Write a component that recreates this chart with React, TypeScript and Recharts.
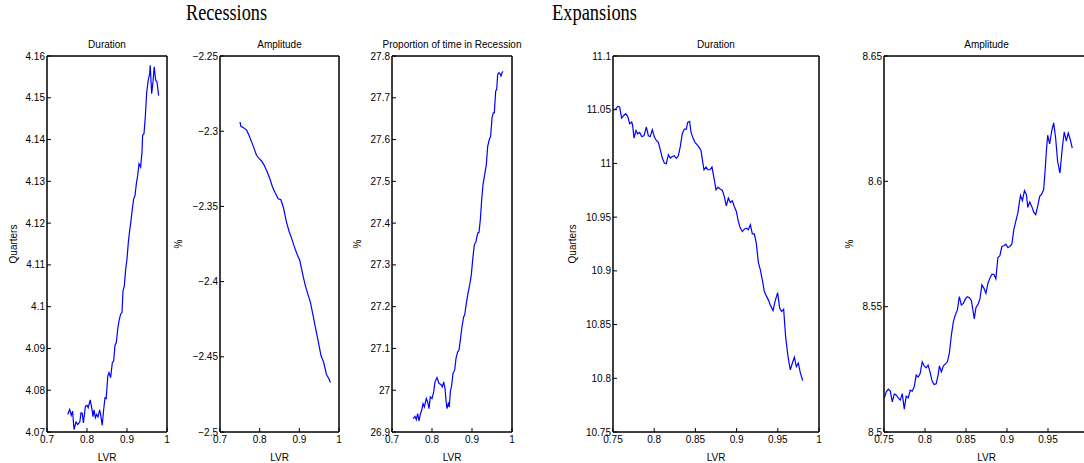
import React from 'react';
import { LineChart, Line, XAxis, YAxis, ReferenceArea } from 'recharts';

// ---------- data ----------
const recDurX = [0.7517,0.7567,0.7608,0.764,0.7675,0.7725,0.7767,0.782,0.785,0.788,0.791,0.796,0.8,0.803,0.808,0.8125,0.815,0.8175,0.821,0.824,0.8275,0.8317,0.834,0.838,0.8417,0.845,0.848,0.852,0.855,0.859,0.8633,0.8667,0.87,0.8733,0.8767,0.88,0.884,0.8875,0.89,0.8933,0.8967,0.9,0.9033,0.9067,0.91,0.9133,0.9167,0.92,0.9233,0.9267,0.93,0.934,0.9375,0.939,0.9425,0.946,0.949,0.953,0.9567,0.958,0.9617,0.965,0.968,0.9717,0.975,0.979];
const recDurY = [4.0742,4.0754,4.074,4.075,4.0706,4.0724,4.0718,4.0724,4.0746,4.0745,4.0722,4.0762,4.0764,4.0758,4.0777,4.0754,4.0737,4.0753,4.0734,4.0742,4.0736,4.0753,4.0742,4.0716,4.0754,4.0782,4.078,4.0834,4.0842,4.083,4.0866,4.087,4.0908,4.0914,4.0946,4.0966,4.0982,4.0986,4.1038,4.105,4.109,4.1114,4.1154,4.1182,4.1206,4.1234,4.1258,4.1266,4.1294,4.1314,4.1342,4.1334,4.137,4.141,4.1414,4.1458,4.151,4.1542,4.1558,4.1578,4.151,4.1538,4.1574,4.1542,4.1538,4.1505];

const recAmpX = [0.7503,0.7528,0.76,0.767,0.773,0.7796,0.7855,0.792,0.799,0.8048,0.8115,0.819,0.8257,0.8324,0.839,0.8467,0.8534,0.86,0.8676,0.8743,0.881,0.8878,0.8945,0.9012,0.9079,0.9146,0.9213,0.928,0.9347,0.9414,0.9481,0.9548,0.9615,0.9682,0.975,0.9783];
const recAmpY = [-2.2938,-2.2967,-2.2978,-2.2993,-2.3027,-2.3071,-2.3111,-2.316,-2.3182,-2.3198,-2.3227,-2.3271,-2.3316,-2.3371,-2.3409,-2.3449,-2.3456,-2.3509,-2.3604,-2.3667,-2.3716,-2.3771,-2.382,-2.386,-2.3944,-2.4022,-2.4082,-2.4138,-2.4227,-2.4316,-2.4404,-2.4493,-2.4538,-2.4616,-2.4649,-2.4671];

const recPropX = [0.7525,0.7575,0.7608,0.7642,0.7675,0.7708,0.7742,0.7775,0.7808,0.7858,0.7892,0.7925,0.7958,0.8,0.8042,0.8075,0.8125,0.8175,0.8225,0.8258,0.8292,0.8325,0.835,0.8375,0.8408,0.8433,0.8458,0.8492,0.8525,0.8567,0.86,0.8642,0.8675,0.8708,0.875,0.8792,0.8817,0.8858,0.89,0.8942,0.8983,0.9017,0.9058,0.91,0.9142,0.9175,0.9208,0.9242,0.9275,0.9317,0.9358,0.9392,0.9433,0.9467,0.95,0.9533,0.9558,0.9592,0.9617,0.9642,0.9675,0.9708,0.9725,0.975,0.9775];
const recPropY = [26.932,26.9376,26.9296,26.944,26.9264,26.9424,26.952,26.968,26.96,26.98,26.972,26.956,26.984,26.98,26.996,27.02,27.0304,27.016,27.0136,27.008,27.02,27.004,26.976,26.956,26.968,26.96,26.996,27.012,27.04,27.048,27.076,27.092,27.096,27.12,27.152,27.176,27.18,27.208,27.232,27.252,27.276,27.312,27.348,27.356,27.376,27.378,27.408,27.456,27.492,27.516,27.54,27.584,27.6,27.608,27.652,27.664,27.664,27.716,27.72,27.756,27.76,27.756,27.752,27.76,27.763];

const expDurX = [0.7508,0.7532,0.7557,0.7581,0.7605,0.7629,0.7654,0.7678,0.7702,0.7727,0.7739,0.7755,0.7779,0.7799,0.7824,0.7848,0.7876,0.7905,0.7929,0.7953,0.7977,0.8002,0.8026,0.805,0.8074,0.8099,0.8123,0.8147,0.8172,0.8196,0.822,0.8244,0.8269,0.8293,0.8317,0.8341,0.8366,0.839,0.8406,0.843,0.8447,0.8471,0.8495,0.8519,0.8544,0.8568,0.8588,0.8604,0.8629,0.8653,0.8677,0.8701,0.8726,0.875,0.8774,0.8799,0.8827,0.8851,0.8875,0.89,0.8924,0.8948,0.8972,0.8997,0.9021,0.9045,0.907,0.9094,0.9118,0.9142,0.9167,0.9191,0.9215,0.9239,0.9264,0.9288,0.9312,0.9337,0.9361,0.9385,0.9409,0.9442,0.9466,0.9498,0.9523,0.9547,0.9571,0.9595,0.9624,0.9652,0.9676,0.9701,0.9725,0.9749,0.9773,0.9802];
const expDurY = [11.05,11.0506,11.0531,11.0525,11.0422,11.0444,11.0463,11.0438,11.037,11.0385,11.0351,11.0236,11.0307,11.0276,11.0289,11.0251,11.0258,11.0339,11.0258,11.0251,11.0314,11.0245,11.0214,11.0196,11.0127,11.005,11.0003,10.9997,11.0081,11.005,11.0065,11.0071,11.0047,11.0071,11.0158,11.0276,11.032,11.032,11.0382,11.0391,11.0289,11.0236,11.0196,11.0174,11.0152,11.0121,11.0019,10.9941,10.9966,10.9941,10.9941,10.9966,10.9863,10.9755,10.978,10.9761,10.9748,10.9693,10.9606,10.9677,10.9637,10.9652,10.9599,10.9553,10.946,10.9398,10.9366,10.9388,10.9398,10.9382,10.9429,10.9345,10.9345,10.9258,10.9078,10.9009,10.8916,10.8807,10.8767,10.873,10.8683,10.863,10.8714,10.8798,10.8652,10.8621,10.8643,10.8388,10.8202,10.8078,10.814,10.8196,10.8109,10.814,10.8053,10.7978];

const expAmpX = [0.7504,0.7528,0.7553,0.7577,0.7601,0.7626,0.765,0.7674,0.7698,0.7723,0.7747,0.7771,0.7796,0.782,0.7844,0.7868,0.7893,0.7917,0.7941,0.7966,0.799,0.8014,0.8038,0.8063,0.8087,0.8111,0.8136,0.816,0.8176,0.82,0.8225,0.8249,0.8273,0.8298,0.8322,0.8346,0.837,0.8395,0.8419,0.8443,0.8468,0.8492,0.8516,0.854,0.8565,0.8581,0.8601,0.8621,0.8646,0.867,0.8694,0.8719,0.8743,0.8767,0.8791,0.8816,0.884,0.8864,0.8889,0.8913,0.8937,0.8962,0.8986,0.901,0.9034,0.9059,0.9083,0.9107,0.9132,0.9148,0.9164,0.9188,0.9213,0.9237,0.9253,0.9277,0.9302,0.9326,0.935,0.9374,0.9399,0.9423,0.9447,0.9464,0.948,0.9496,0.952,0.9545,0.9569,0.9593,0.9617,0.9646,0.9674,0.9698,0.9723,0.9747,0.9771,0.9796];
const expAmpY = [8.5136,8.516,8.5171,8.5163,8.512,8.5152,8.5147,8.5136,8.5127,8.5153,8.5091,8.5143,8.5136,8.5167,8.5163,8.518,8.5227,8.5219,8.5233,8.528,8.5264,8.5256,8.5267,8.5237,8.5203,8.5189,8.5192,8.5227,8.5264,8.524,8.5264,8.5272,8.528,8.5317,8.5387,8.544,8.5467,8.5487,8.554,8.5507,8.5513,8.5531,8.554,8.5536,8.5525,8.5493,8.5451,8.5496,8.5509,8.5531,8.5587,8.5573,8.5553,8.5593,8.5613,8.5629,8.5629,8.5611,8.5696,8.5703,8.574,8.5743,8.5749,8.5736,8.574,8.5749,8.5807,8.584,8.5873,8.5909,8.5944,8.5923,8.5963,8.5947,8.5896,8.5917,8.59,8.5877,8.5867,8.59,8.594,8.5949,8.5967,8.604,8.612,8.6184,8.6149,8.62,8.6233,8.6173,8.608,8.6033,8.6133,8.6197,8.616,8.6193,8.6167,8.6133];

const xTicksA = [0.7, 0.8, 0.9, 1];
const xTicksB = [0.75, 0.8, 0.85, 0.9, 0.95, 1];
const xTicksC = [0.75, 0.8, 0.85, 0.9, 0.95];
const recDurTicks = [4.07, 4.08, 4.09, 4.1, 4.11, 4.12, 4.13, 4.14, 4.15, 4.16];
const recAmpTicks = [-2.5, -2.45, -2.4, -2.35, -2.3, -2.25];
const recPropTicks = [26.9, 27, 27.1, 27.2, 27.3, 27.4, 27.5, 27.6, 27.7, 27.8];
const expDurTicks = [10.75, 10.8, 10.85, 10.9, 10.95, 11, 11.05, 11.1];
const expAmpTicks = [8.5, 8.55, 8.6, 8.65];

// ---------- layout ----------
const FONT = '"Liberation Sans", Arial, Helvetica, sans-serif';
const YW = 55;
const RM = 30;
const TOP = 56;
const PLOT_H = 376;
const XH = 31;
const BLUE = '#0000ff';

const fmt = (v: number) => String(Number(v.toFixed(4))).replace('-', '\u2212');
const tickStyle = { fill: '#000', fontSize: 10, fontFamily: FONT };

type PanelProps = {
  plotLeft: number;
  plotW: number;
  xs: number[];
  ys: number[];
  xDomain: [number, number];
  xTicks: number[];
  yDomain: [number, number];
  yTicks: number[];
  title: string;
  yLabel: string;
  yLabelX: number;
};

function Panel(p: PanelProps) {
  const n = Math.min(p.xs.length, p.ys.length);
  const data = p.xs.slice(0, n).map((x, i) => ({ x, y: p.ys[i], y2: p.ys[i] }));
  const chartLeft = p.plotLeft - YW;
  return (
    <div style={{ position: 'absolute', left: chartLeft, top: 0 }}>
      <LineChart
        width={YW + p.plotW + 1 + RM}
        height={TOP + PLOT_H + XH}
        data={data}
        margin={{ top: TOP - 1, right: RM, bottom: 0, left: 0 }}
      >
        <XAxis
          xAxisId="b"
          dataKey="x"
          type="number"
          domain={p.xDomain}
          ticks={p.xTicks}
          interval={0}
          allowDataOverflow
          height={XH}
          tickSize={-4}
          tickMargin={8}
          tick={tickStyle}
          tickFormatter={fmt}
          stroke="#000"
          label={{ value: 'LVR', position: 'insideBottom', offset: 2, fill: '#000', fontSize: 10, fontFamily: FONT }}
        />
        <XAxis
          xAxisId="t"
          orientation="top"
          dataKey="x"
          type="number"
          domain={p.xDomain}
          ticks={p.xTicks}
          interval={0}
          allowDataOverflow
          height={1}
          tickSize={-4}
          tick={false}
          stroke="#000"
          label={{ value: p.title, position: 'top', offset: 7, fill: '#000', fontSize: 10, fontFamily: FONT }}
        />
        <YAxis
          yAxisId="l"
          type="number"
          domain={p.yDomain}
          ticks={p.yTicks}
          interval={0}
          allowDataOverflow
          width={YW}
          tickSize={-4}
          tickMargin={6}
          tick={tickStyle}
          tickFormatter={fmt}
          stroke="#000"
          label={{ value: p.yLabel, angle: -90, position: 'insideLeft', offset: p.yLabelX - chartLeft, fill: '#000', fontSize: 10, fontFamily: FONT, style: { textAnchor: 'middle' } }}
        />
        <YAxis
          yAxisId="r"
          orientation="right"
          type="number"
          domain={p.yDomain}
          ticks={p.yTicks}
          interval={0}
          allowDataOverflow
          width={1}
          tickSize={-4}
          tick={false}
          stroke="#000"
        />
        <ReferenceArea
          xAxisId="b"
          yAxisId="l"
          x1={p.xDomain[0]}
          x2={p.xDomain[1]}
          y1={p.yDomain[0]}
          y2={p.yDomain[1]}
          fill="none"
          fillOpacity={0}
          stroke="#000"
          strokeOpacity={1}
          strokeWidth={1}
          ifOverflow="visible"
        />
        <Line
          xAxisId="t"
          yAxisId="r"
          type="linear"
          dataKey="y2"
          stroke="none"
          strokeOpacity={0}
          dot={false}
          activeDot={false}
          legendType="none"
          isAnimationActive={false}
        />
        <Line
          xAxisId="b"
          yAxisId="l"
          type="linear"
          dataKey="y"
          stroke={BLUE}
          strokeWidth={1.2}
          dot={false}
          activeDot={false}
          isAnimationActive={false}
        />
      </LineChart>
    </div>
  );
}

export default function App() {
  return (
    <div style={{ position: 'fixed', left: 0, top: 0, width: 1084, height: 463, overflow: 'hidden', background: '#fff' }}>
      <svg width={1084} height={30} style={{ position: 'absolute', left: 0, top: 0 }}>
        <text x={186} y={19.5} fontFamily='"Liberation Serif", "Times New Roman", serif' fontSize={23} fill="#000" textLength={81} lengthAdjust="spacingAndGlyphs">Recessions</text>
        <text x={552} y={19.5} fontFamily='"Liberation Serif", "Times New Roman", serif' fontSize={23} fill="#000" textLength={85} lengthAdjust="spacingAndGlyphs">Expansions</text>
      </svg>
      <Panel plotLeft={47} plotW={120} xs={recDurX} ys={recDurY} xDomain={[0.7, 1]} xTicks={xTicksA} yDomain={[4.07, 4.16]} yTicks={recDurTicks} title="Duration" yLabel="Quarters" yLabelX={13} />
      <Panel plotLeft={220} plotW={119} xs={recAmpX} ys={recAmpY} xDomain={[0.7, 1]} xTicks={xTicksA} yDomain={[-2.5, -2.25]} yTicks={recAmpTicks} title="Amplitude" yLabel="%" yLabelX={178} />
      <Panel plotLeft={392} plotW={120} xs={recPropX} ys={recPropY} xDomain={[0.7, 1]} xTicks={xTicksA} yDomain={[26.9, 27.8]} yTicks={recPropTicks} title="Proportion of time in Recession" yLabel="%" yLabelX={357} />
      <Panel plotLeft={613} plotW={206} xs={expDurX} ys={expDurY} xDomain={[0.75, 1]} xTicks={xTicksB} yDomain={[10.75, 11.1]} yTicks={expDurTicks} title="Duration" yLabel="Quarters" yLabelX={572} />
      <Panel plotLeft={884} plotW={205} xs={expAmpX} ys={expAmpY} xDomain={[0.75, 1]} xTicks={xTicksC} yDomain={[8.5, 8.65]} yTicks={expAmpTicks} title="Amplitude" yLabel="%" yLabelX={849} />
    </div>
  );
}
